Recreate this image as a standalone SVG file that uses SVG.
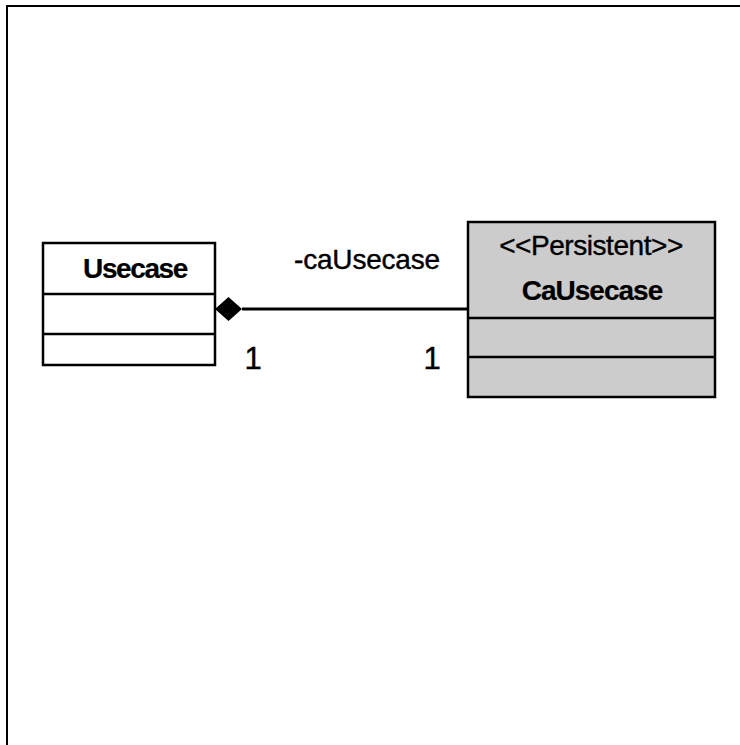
<svg xmlns="http://www.w3.org/2000/svg" width="740" height="745" viewBox="0 0 740 745">
<style>
.box{stroke:#000;stroke-width:2.5}
.txt{font-family:"Liberation Sans",Arial,sans-serif;font-size:28px;fill:#000;stroke:#000;stroke-width:0.4}
.b{font-weight:bold;stroke-width:0.2}
.m{font-size:31px}
</style>
<rect width="740" height="745" fill="#fff"/>
<path d="M7,745 V6 H740" fill="none" stroke="#000" stroke-width="2"/>
<g id="connectors">
<line x1="242" y1="309" x2="469" y2="309" stroke="#000" stroke-width="3"/>
<polygon points="215,309 228.5,297 242,309 228.5,321" fill="#000"/>
<text class="txt" x="367" y="269" text-anchor="middle" letter-spacing="-0.2">-caUsecase</text>
<text class="txt m" x="253" y="369" text-anchor="middle">1</text>
<text class="txt m" x="432" y="369" text-anchor="middle">1</text>
</g>
<g id="Usecase">
<rect class="box" x="43" y="243" width="172" height="122" fill="#fff"/>
<line class="box" x1="43" y1="294" x2="215" y2="294"/>
<line class="box" x1="43" y1="334" x2="215" y2="334"/>
<text class="txt b" x="135" y="278" text-anchor="middle" letter-spacing="-1.4">Usecase</text>
</g>
<g id="CaUsecase">
<rect class="box" x="468" y="222" width="247" height="175" fill="#cccccc"/>
<line class="box" x1="468" y1="318" x2="715" y2="318"/>
<line class="box" x1="468" y1="357" x2="715" y2="357"/>
<text class="txt" x="591" y="255" text-anchor="middle" letter-spacing="-0.45">&lt;&lt;Persistent&gt;&gt;</text>
<text class="txt b" x="592" y="300" text-anchor="middle" letter-spacing="-1">CaUsecase</text>
</g>
</svg>
